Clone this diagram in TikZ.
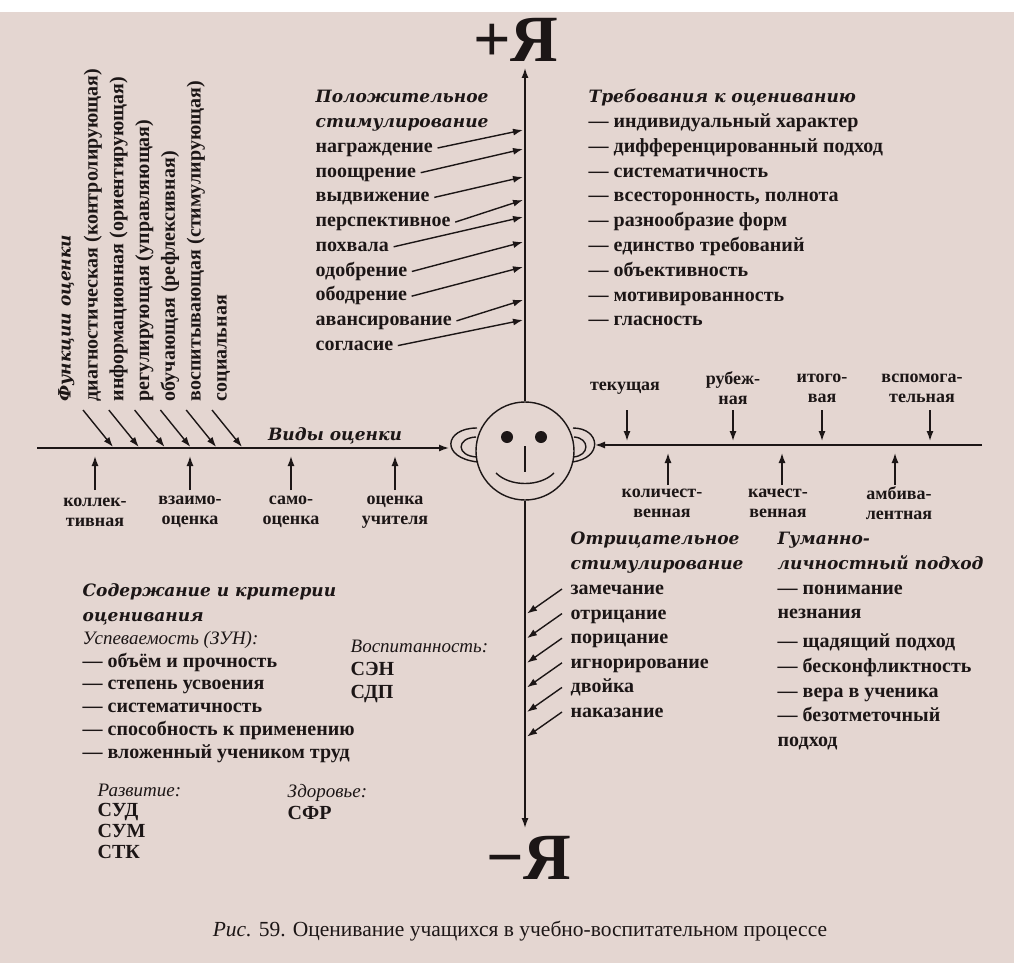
\documentclass[tikz,border=0pt]{standalone}
\usepackage{fontspec}
\setmainfont{Liberation Serif}
\newfontfamily\headfont{DejaVu Serif}
\usetikzlibrary{arrows.meta,positioning,calc}

\definecolor{paper}{RGB}{228,214,209}
\definecolor{ink}{RGB}{28,22,22}

\begin{document}
\begin{tikzpicture}[x=1pt,y=-1pt,line width=1.4pt,draw=ink,
  >={Latex[length=10pt,width=7pt]},
  txt/.style={inner sep=0pt,text height=13pt,text depth=4pt,text=ink,
    font=\fontsize{20}{24}\selectfont\bfseries},
  item/.style={txt,anchor=west},
  head/.style={item,font=\headfont\fontsize{17}{24}\selectfont\bfseries\itshape},
  sub/.style={item,font=\fontsize{19}{24}\selectfont\itshape},
  fn/.style={txt,rotate=90,anchor=west},
  lbl/.style={inner sep=0pt,align=center,text=ink,
    font=\fontsize{18}{20}\selectfont\bfseries},
  big/.style={inner sep=0pt,text=ink,font=\fontsize{66}{66}\selectfont\bfseries}]

  \fill[white] (0,0) rectangle (1014,963);
  \fill[paper] (0,12) rectangle (1014,963);

  % the pupil
  \node[circle,draw,minimum size=98pt,inner sep=0pt] (face) at (525,451) {};
  \fill[ink] (507,437) circle (6) (541,437) circle (6);
  \draw (525,446) -- (525,472);
  \draw (496,473) .. controls (510,487) and (540,487) .. (554,473);
  \draw (477,428) .. controls (444,428) and (440,458) .. (478,462);
  \draw (476,437) .. controls (456,438) and (456,456) .. (477,457);
  \draw (573,428) .. controls (600,428) and (604,458) .. (572,462);
  \draw (574,437) .. controls (590,438) and (590,456) .. (573,457);

  \coordinate (top) at (525,68);
  \coordinate (bot) at (525,828);
  \coordinate (lend) at (37,448);
  \coordinate (lear) at (449,448);
  \coordinate (rend) at (982,445);
  \coordinate (rear) at (595,445);

  \draw[->] (face.north) -- (top);
  \draw[->] (face.south) -- (bot);
  \draw[->] (lend) -- (lear);
  \draw[->] (rend) -- (rear);

  \node[big] (plus) at (516,40) {+Я};
  \node[big] (minus) at (529,858) {−Я};

  \node[head,anchor=center] (vid) at (335,436) {Виды оценки};

  % functions, written upwards
  \node[fn,font=\headfont\fontsize{17}{24}\selectfont\bfseries\itshape] (f0) at (66,402) {Функции оценки};
  \foreach \t [count=\i] in {диагностическая (контролирующая),
      информационная (ориентирующая),регулирующая (управляющая),
      обучающая (рефлексивная),воспитывающая (стимулирующая),социальная}
    \node[fn] (f\i) at (93+25.8*\i-25.8,402) {\t};
  \foreach \i in {1,...,6}
    \draw[->] ($(f\i.west)+(-10,8)$) -- ($(f\i.west)+(20,45)$);

  % kinds of assessment
  \node[lbl] (kol) at (95,512) {коллек-\\тивная};
  \node[lbl] (vza) at (190,512) {взаимо-\\оценка};
  \node[lbl] (sam) at (291,512) {само-\\оценка};
  \node[lbl] (uch) at (395,512) {оценка\\учителя};
  \foreach \n in {kol,vza,sam,uch}
    \draw[->] (\n) ++(0,-22) -- ++(0,-34);

  \node[lbl] (tek) at (625,388) {текущая};
  \node[lbl] (rub) at (733,388) {рубеж-\\ная};
  \node[lbl] (ito) at (822,388) {итого-\\вая};
  \node[lbl] (vsp) at (922,388) {вспомога-\\тельная};
  \foreach \n/\d in {tek/2,rub/0,ito/0,vsp/8}
    \draw[->] (\n) ++(\d,22) -- ++(0,31);

  \node[lbl] (kolv) at (662,503) {количест-\\венная};
  \node[lbl] (kach) at (778,503) {качест-\\венная};
  \node[lbl] (amb) at (899,503) {амбива-\\лентная};
  \foreach \n/\d in {kolv/6,kach/4,amb/-4}
    \draw[->] (\n) ++(\d,-18) -- ++(0,-32);

  % positive stimulation
  \node[head] (pos) at (315,98) {Положительное};
  \node[head] (pos0) at (315,123) {стимулирование};
  \foreach \t [count=\i] in {награждение,поощрение,выдвижение,перспективное,
      похвала,одобрение,ободрение,авансирование,согласие}
    \node[item] (pos\i) at (315,123.3+24.7*\i) {\t};
  \foreach \i/\e in {1/130,2/149,3/177,4/200,5/217,6/242,7/267,8/300,9/320} {
    \coordinate (up\i) at (523,\e);
    \draw[->] ([xshift=4pt]pos\i.east) -- (up\i);
  }

  % requirements
  \node[head] (req) at (588,98) {Требования к оцениванию};
  \foreach \t [count=\i] in {индивидуальный характер,дифференцированный подход,
      систематичность,{всесторонность, полнота},разнообразие форм,
      единство требований,объективность,мотивированность,гласность}
    \node[item] (req\i) at (588,98.2+24.8*\i) {— \t};

  % negative stimulation
  \node[head] (neg) at (570,540) {Отрицательное};
  \node[head] (neg0) at (570,565) {стимулирование};
  \foreach \t [count=\i] in {замечание,отрицание,порицание,игнорирование,
      двойка,наказание} {
    \node[item] (neg\i) at (570,565.4+24.6*\i) {\t};
    \coordinate (dn\i) at (527,589+24.6*\i);
    \draw[->] ($(neg\i.west)+(-8,-1)$) -- (dn\i);
  }

  % humane approach
  \node[head] (hum) at (777,540) {Гуманно-};
  \node[head] (hum0) at (777,565) {личностный подход};
  \foreach \t/\y [count=\i] in {— понимание/590,незнания/614,— щадящий подход/643,
      — бесконфликтность/668,— вера в ученика/693,— безотметочный/717,подход/742}
    \node[item] (hum\i) at (777,\y) {\t};

  % content and criteria
  \node[head] (crit) at (82,592) {Содержание и критерии};
  \node[head] (crit0) at (82,617) {оценивания};
  \node[sub] (usp) at (82,640) {Успеваемость (ЗУН):};
  \foreach \t [count=\i] in {объём и прочность,степень усвоения,систематичность,
      способность к применению,вложенный учеником труд}
    \node[item] (usp\i) at (82,640+22.7*\i) {— \t};

  \node[sub] (vos) at (350,648) {Воспитанность:};
  \node[item] (vos1) at (350,671) {СЭН};
  \node[item] (vos2) at (350,694) {СДП};

  \node[sub] (raz) at (97,792) {Развитие:};
  \node[item] (raz1) at (97,812) {СУД};
  \node[item] (raz2) at (97,833) {СУМ};
  \node[item] (raz3) at (97,854) {СТК};

  \node[sub] (zdr) at (287,793) {Здоровье:};
  \node[item] (zdr1) at (287,815) {СФР};

  \node[txt,font=\fontsize{21.5}{24}\selectfont] (cap) at (520,932)
    {\textit{Рис.} 59. Оценивание учащихся в учебно-воспитательном процессе};

\end{tikzpicture}
\end{document}
